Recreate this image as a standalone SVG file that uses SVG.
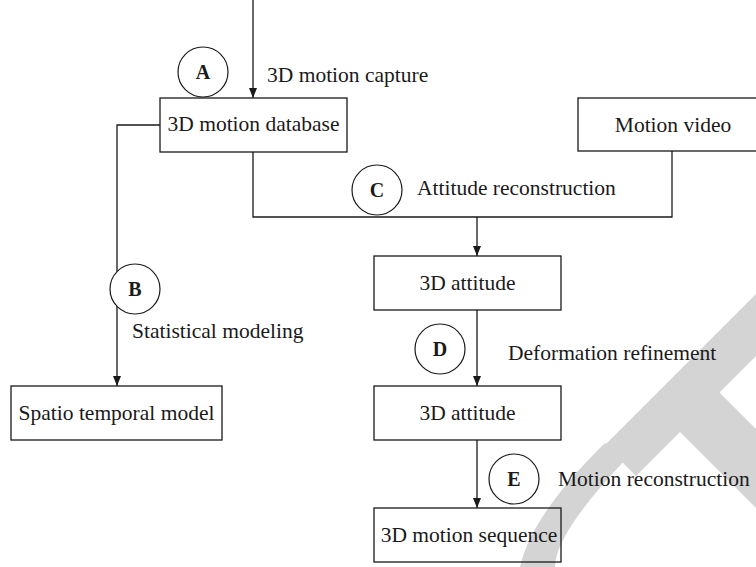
<svg xmlns="http://www.w3.org/2000/svg" width="756" height="567" viewBox="0 0 756 567">
  <style>
    .box { fill: none; stroke: #1a1a1a; stroke-width: 1.3; }
    .tag { fill: #ffffff; stroke: #1a1a1a; stroke-width: 1.2; }
    .wire { fill: none; stroke: #1a1a1a; stroke-width: 1.3; }
    .lbl { font-family: "Liberation Serif", "DejaVu Serif", serif; font-size: 21.5px; fill: #1a1a1a; }
    .mid { text-anchor: middle; }
    .letter { font-family: "Liberation Serif", "DejaVu Serif", serif; font-size: 20px; font-weight: bold; fill: #1a1a1a; text-anchor: middle; }
    .mark { fill: #d4d4d4; }
  </style>
  <defs>
    <marker id="arrow" viewBox="0 0 10 8" refX="10" refY="4" markerWidth="10" markerHeight="8" markerUnits="userSpaceOnUse" orient="auto">
      <path d="M0,0 L10,4 L0,8 Z" fill="#1a1a1a"/>
    </marker>
  </defs>

  <rect width="756" height="567" fill="#ffffff"/>

  <!-- background mark -->
  <g id="mark">
    <polygon class="mark" points="605,445 905,145 936,176 719.5,392.5 900,573 860.5,612.5 680,432 636,476"/>
    <path class="mark" d="M605,443 Q531.5,515 520,567 L555,567 Q555,533.5 627,458 Z"/>
  </g>

  <!-- connectors -->
  <g id="connectors">
    <line class="wire" x1="253" y1="0" x2="253" y2="98" marker-end="url(#arrow)"/>
    <polyline class="wire" points="160,125 117,125 117,386" marker-end="url(#arrow)"/>
    <polyline class="wire" points="253,152 253,217 672,217 672,151"/>
    <line class="wire" x1="477" y1="217" x2="477" y2="256" marker-end="url(#arrow)"/>
    <line class="wire" x1="477" y1="310" x2="477" y2="386" marker-end="url(#arrow)"/>
    <line class="wire" x1="477" y1="440" x2="477" y2="508" marker-end="url(#arrow)"/>
    <text class="lbl" x="267" y="82">3D motion capture</text>
    <text class="lbl" x="417" y="195">Attitude reconstruction</text>
    <text class="lbl" x="132" y="338">Statistical modeling</text>
    <text class="lbl" x="508" y="360">Deformation refinement</text>
    <text class="lbl" x="558" y="486">Motion reconstruction</text>
  </g>

  <!-- step tags -->
  <g id="tag-a">
    <circle class="tag" cx="203" cy="72" r="25"/>
    <text class="letter" x="203" y="79">A</text>
  </g>
  <g id="tag-b">
    <circle class="tag" cx="135" cy="289" r="25"/>
    <text class="letter" x="135" y="296">B</text>
  </g>
  <g id="tag-c">
    <circle class="tag" cx="377" cy="190" r="25"/>
    <text class="letter" x="377" y="197">C</text>
  </g>
  <g id="tag-d">
    <circle class="tag" cx="440" cy="349" r="25"/>
    <text class="letter" x="440" y="356">D</text>
  </g>
  <g id="tag-e">
    <circle class="tag" cx="514" cy="479" r="25"/>
    <text class="letter" x="514" y="486">E</text>
  </g>

  <!-- nodes -->
  <g id="motion-database">
    <rect class="box" x="160" y="98" width="187" height="54"/>
    <text class="lbl mid" x="253.5" y="131">3D motion database</text>
  </g>
  <g id="motion-video">
    <rect class="box" x="578" y="98" width="190" height="53"/>
    <text class="lbl mid" x="673" y="132">Motion video</text>
  </g>
  <g id="spatio-temporal-model">
    <rect class="box" x="11" y="386" width="211" height="54"/>
    <text class="lbl mid" x="116.5" y="420">Spatio temporal model</text>
  </g>
  <g id="attitude-1">
    <rect class="box" x="374" y="256" width="187" height="54"/>
    <text class="lbl mid" x="467.5" y="290">3D attitude</text>
  </g>
  <g id="attitude-2">
    <rect class="box" x="374" y="386" width="187" height="54"/>
    <text class="lbl mid" x="467.5" y="420">3D attitude</text>
  </g>
  <g id="motion-sequence">
    <rect class="box" x="374" y="508" width="187" height="54"/>
    <text class="lbl mid" x="469" y="542">3D motion sequence</text>
  </g>
</svg>
